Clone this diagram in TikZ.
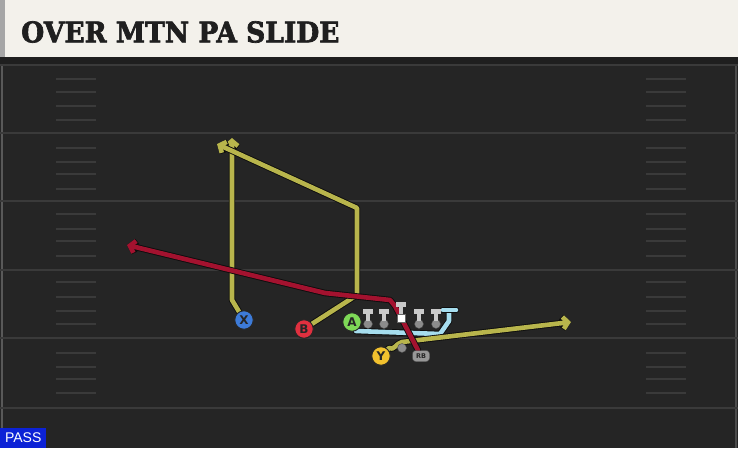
\documentclass[tikz,border=0pt]{standalone}
\usepackage{fontspec}
\setmainfont{DejaVu Serif}
\newfontfamily\titlefont{DejaVu Serif Bold}[FakeBold=2.4]
\newfontfamily\labfont{Liberation Sans}
\newfontfamily\plfont{DejaVu Sans}
\usetikzlibrary{arrows.meta}
\definecolor{fieldbg}{HTML}{252525}
\definecolor{fieldline}{HTML}{3A3A3A}
\definecolor{cream}{HTML}{F3F1EB}
\definecolor{ylw}{HTML}{B8B54C}
\definecolor{crim}{HTML}{A3122F}
\definecolor{cyanr}{HTML}{A6DDEE}
\definecolor{pblue}{HTML}{3D7BD9}
\definecolor{pred}{HTML}{E0303F}
\definecolor{pgreen}{HTML}{7ED957}
\definecolor{pyel}{HTML}{F2C12E}
\definecolor{passblue}{HTML}{0C22D6}
\definecolor{tgray}{HTML}{C9C9C9}
\definecolor{dgray}{HTML}{8C8C8C}
\begin{document}
\begin{tikzpicture}[x=1pt,y=-1pt,
  yard/.style={draw=fieldline, line width=1.6pt},
  hash/.style={draw=fieldline, line width=1.4pt},
  route/.style={line width=4.6pt, line join=round, line cap=round,
     preaction={draw=black!95, line width=6.4pt, line join=round, line cap=round}},
  yroute/.style={route, draw=ylw},
  rroute/.style={route, draw=crim},
  croute/.style={route, draw=cyanr},
  tip/.style={-{Straight Barb[length=5pt,width=12pt]}},
  player/.style={circle, draw=black!85, line width=0.9pt, minimum size=18.5pt, inner sep=0pt,
     font=\plfont\bfseries\fontsize{12}{12}\selectfont, text=black!85},
  rbbox/.style={draw=black!80, fill=dgray!90, rounded corners=3pt, minimum width=17pt, minimum height=11pt,
     inner sep=0pt, font=\plfont\bfseries\fontsize{6.5}{6.5}\selectfont, text=black!85},
  tbar/.style={draw=tgray, line width=4.4pt},
  tdot/.style={circle, inner sep=0pt, minimum size=9pt, fill=dgray, draw=black!70, line width=0.4pt}
]
\useasboundingbox (0,0) rectangle (738,448);
% field
\fill[fieldbg] (0,0) rectangle (738,448);
\fill[black!88] (0,56) rectangle (738,64);
\draw[draw=black!65, line width=1.2pt] (2,64) -- (2,448);
\draw[draw=black!70, line width=1.5pt] (736,64) -- (736,448);
% yard lines
\foreach \yy in {65,133,201,270,338,408} \draw[yard] (0,\yy) -- (738,\yy);
% hash marks
\foreach \yy in {79,92,106,120,148,162,174,189,214,229,241,256,282,297,311,324,353,367,379,393}{
  \draw[hash] (56,\yy) -- (96,\yy);
  \draw[hash] (646,\yy) -- (686,\yy);
}
% title band
\fill[cream] (0,0) rectangle (738,57);
\fill[black!35] (0,0) rectangle (5,57);
\node[anchor=west, inner sep=0pt, text=black!88] (title) at (21,32)
  {\scalebox{0.93}[1]{\titlefont\fontsize{28.5}{28.5}\selectfont OVER MTN PA SLIDE}};
% players
\node[player, fill=pblue] (X) at (244,320) {X};
\node[player, fill=pred] (B) at (304,329) {B};
\node[player, fill=pgreen] (A) at (352,322) {A};
\node[player, fill=pyel] (Y) at (381,356) {Y};
\node[rbbox] (RB) at (421,356) {RB};
% route coordinates
\coordinate (xa) at (232,300);
\coordinate (xe) at (232,138);
\coordinate (ba) at (357,295);
\coordinate (bb) at (357,208);
\coordinate (be) at (217,144);
\coordinate (ya) at (402,342);
\coordinate (ye) at (571,322);
\coordinate (ra) at (395,306);
\coordinate (rb) at (390,300);
\coordinate (rc) at (325,293);
\coordinate (re) at (127,245);
\coordinate (ca) at (356,331);
\coordinate (cb) at (440,334);
\coordinate (cc) at (449,321);
\coordinate (ce) at (449,311);
\coordinate (cl) at (443,310);
\coordinate (cr) at (456,310);
% cyan block route
\draw[croute] (ca) -- (cb) -- (cc) -- (ce);
\draw[croute] (cl) -- (cr);
% yellow routes
\draw[yroute, tip] (X) -- (xa) -- (xe);
\draw[yroute, tip] (B) -- (ba) -- (bb) -- (be);
\draw[yroute, tip] (Y) -- (389,348) to[out=-35,in=190] (ya) -- (ye);
% linemen
\foreach \lx in {368,384,419,436}{
  \node[tdot] (ol\lx) at (\lx,324) {};
  \draw[tbar] (\lx,312) -- (\lx,321);
  \draw[tbar] (\lx-5,311.5) -- (\lx+5,311.5);
}
% red route
\draw[rroute, tip] (RB) -- (ra) -- (rb) -- (rc) -- (re);
% center
\draw[tbar] (401,305) -- (401,315);
\draw[tbar] (396,304.5) -- (406,304.5);
\node[fill=white, draw=black!60, line width=0.4pt, minimum size=8.5pt, inner sep=0pt] (C) at (401,318) {};
% QB dot
\node[tdot] (qb) at (402,348) {};
% players redrawn on top of routes
\node[player, fill=pblue] at (X) {X};
\node[player, fill=pred] at (B) {B};
\node[player, fill=pgreen] at (A) {A};
\node[player, fill=pyel] at (Y) {Y};
\node[rbbox] at (RB) {RB};
% PASS tag
\node[fill=passblue, anchor=south west, minimum width=46pt, minimum height=20pt, inner sep=0pt,
  text=white, font=\labfont\fontsize{14}{14}\selectfont] (pass) at (0,448) {PASS};
\end{tikzpicture}
\end{document}
